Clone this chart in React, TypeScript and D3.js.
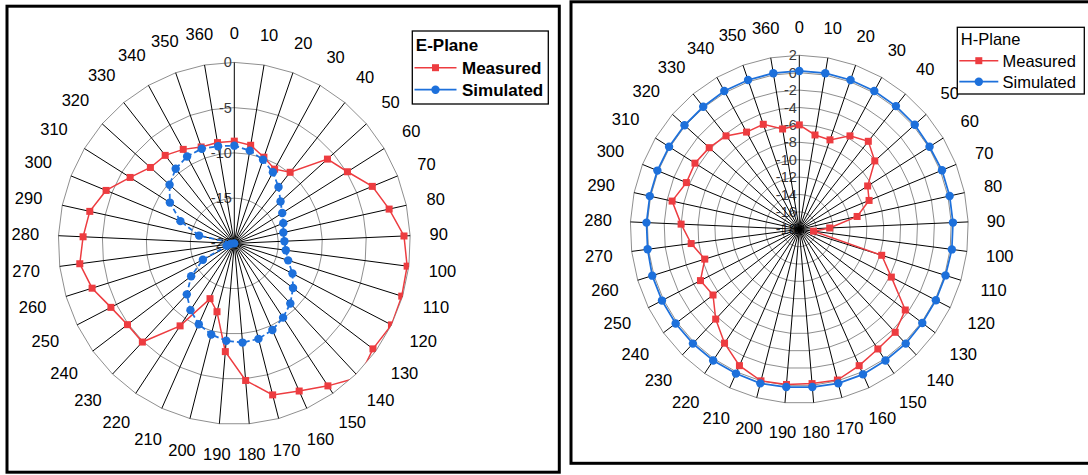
import React from 'react';
import * as d3 from 'd3';

// Category labels around the radar (degrees); 0 and 360 are separate categories.
const ANGLE_LABELS = [
  '0', '10', '20', '30', '40', '50', '60', '70', '80', '90',
  '100', '110', '120', '130', '140', '150', '160', '170', '180', '190',
  '200', '210', '220', '230', '240', '250', '260', '270', '280', '290',
  '300', '310', '320', '330', '340', '350', '360',
];

// E-plane pattern, dB
const E_MEASURED = [
  -8.7, -9.0, -9.9, -10.6, -9.9, -5.9, -4.9, -3.1, -2.0, -0.7,
  -0.2, -0.1, 0.0, -0.4, 0.5, -1.0, -2.1, -2.7, -4.8, -8.0,
  -12.2, -13.3, -9.0, -4.9, -4.9, -4.3, -3.1, -2.3, -2.8, -3.2,
  -4.3, -6.1, -7.3, -7.5, -8.1, -8.7, -8.7,
];
const E_SIMULATED = [
  -9.2, -9.6, -10.2, -11.0, -12.0, -13.0, -13.6, -14.0, -14.3, -14.3,
  -14.1, -13.6, -12.6, -11.7, -10.8, -10.1, -9.5, -9.1, -9.0, -9.2,
  -9.6, -10.2, -11.1, -12.2, -13.9, -16.0, -19.1, -19.6, -20.0, -15.9,
  -13.4, -11.4, -10.2, -9.4, -9.0, -8.9, -9.1,
];
const E_TICKS = [0, -5, -10, -15, -20];

// H-plane pattern, dB
const H_MEASURED = [
  -6.0, -7.0, -7.1, -5.7, -5.0, -6.1, -8.5, -9.1, -11.0, -14.4,
  -16.3, -7.8, -5.8, -2.4, -1.6, -1.4, -0.8, -0.1, -0.2, -0.1,
  0.0, -0.8, -2.2, -3.7, -5.3, -4.9, -6.3, -5.1, -4.0, -2.6,
  -3.6, -3.5, -3.8, -4.2, -5.2, -5.2, -6.3,
];
const H_SIMULATED = [
  0.2, 0.2, 0.2, 0.2, 0.2, 0.2, 0.1, 0.2, 0.2, 0.2,
  0.2, 0.1, 0.1, 0.1, 0.2, 0.2, 0.3, 0.3, 0.2, 0.2,
  0.3, 0.2, 0.2, 0.2, 0.2, 0.2, 0.2, 0.1, 0.1, 0.1,
  0.1, 0.1, 0.1, 0.1, 0.2, 0.2, 0.2,
];
const H_TICKS = [2, 0, -2, -4, -6, -8, -10, -12, -14, -16, -18];

const FONT = '"Liberation Sans", Arial, Helvetica, sans-serif';
const RED = '#ed3c40';
const BLUE = '#1d70db';

type RadarProps = {
  id: string;
  cx: number;
  cy: number;
  rx: number;
  ry: number;
  ticks: number[];
  measured: number[];
  simulated: number[];
  simDash?: string;
};

function Radar({ id, cx, cy, rx, ry, ticks, measured, simulated, simDash }: RadarProps) {
  const n = ANGLE_LABELS.length;
  const vMin = d3.min(ticks) as number;
  const vMax = d3.max(ticks) as number;
  const angle = d3.scaleLinear().domain([0, n]).range([0, 2 * Math.PI]);
  const radius = d3.scaleLinear().domain([vMin, vMax]).range([0, 1]);

  const pt = (i: number, v: number): [number, number] => {
    const a = angle(i);
    const r = radius(v);
    return [cx + rx * r * Math.sin(a), cy - ry * r * Math.cos(a)];
  };
  const closed = d3.line<[number, number]>().curve(d3.curveLinearClosed);
  const ring = (v: number) => closed(d3.range(n).map((i) => pt(i, v))) as string;
  const series = (vals: number[]) => closed(vals.map((v, i) => pt(i, v))) as string;

  const labelFs = 16.5;
  const k = 1.108;
  const boxH = 19;

  return (
    <g>
      <defs>
        <clipPath id={`${id}-clip`}>
          <path d={ring(vMax)} />
        </clipPath>
      </defs>
      {/* concentric gridlines */}
      {ticks
        .filter((t) => t !== vMin)
        .map((t) => (
          <path key={`r${t}`} d={ring(t)} fill="none" stroke="#8f8f8f" strokeWidth={1} />
        ))}
      {/* value axis labels */}
      {ticks.map((t) => (
        <text
          key={`t${t}`}
          x={cx - 2.5}
          y={cy - ry * radius(t)}
          dy="0.35em"
          textAnchor="end"
          fontFamily={FONT}
          fontSize={14.5}
          fill="#3a3a3a"
        >
          {t}
        </text>
      ))}
      {/* spokes */}
      {d3.range(n).map((i) => {
        const [x, y] = pt(i, vMax);
        return <line key={`s${i}`} x1={cx} y1={cy} x2={x} y2={y} stroke="#000" strokeWidth={1} />;
      })}
      {/* category labels */}
      {ANGLE_LABELS.map((lab, i) => {
        const a = angle(i);
        const s = Math.sin(a);
        const c = Math.cos(a);
        const w = lab.length * 0.556 * labelFs;
        const p = Math.abs(s) * (w / 2) + Math.abs(c) * (boxH / 2);
        const x = cx + (rx * k + p) * s;
        const y = cy - (ry * k + p) * c;
        return (
          <text
            key={`c${i}`}
            x={x}
            y={y}
            dy="0.36em"
            textAnchor="middle"
            fontFamily={FONT}
            fontSize={labelFs}
            fill="#000"
          >
            {lab}
          </text>
        );
      })}
      <g clipPath={`url(#${id}-clip)`}>
        {/* measured */}
        <path d={series(measured)} fill="none" stroke={RED} strokeWidth={1.5} />
        {measured.map((v, i) => {
          const [x, y] = pt(i, v);
          return <rect key={`m${i}`} x={x - 3.5} y={y - 3.5} width={7} height={7} fill={RED} />;
        })}
        {/* simulated */}
        <path
          d={series(simulated)}
          fill="none"
          stroke={BLUE}
          strokeWidth={1.75}
          strokeDasharray={simDash}
        />
        {simulated.map((v, i) => {
          const [x, y] = pt(i, v);
          return <circle key={`p${i}`} cx={x} cy={y} r={4.2} fill={BLUE} />;
        })}
      </g>
    </g>
  );
}

type LegendProps = {
  x: number;
  y: number;
  w: number;
  h: number;
  title: string;
  bold: boolean;
  fs: number;
  titleY: number;
  rowY: [number, number];
  lineX: [number, number];
  textX: number;
};

function Legend({ x, y, w, h, title, bold, fs, titleY, rowY, lineX, textX }: LegendProps) {
  const mid = (lineX[0] + lineX[1]) / 2;
  const weight = bold ? 700 : 400;
  return (
    <g fontFamily={FONT} fontSize={fs} fontWeight={weight} fill="#000">
      <rect x={x} y={y} width={w} height={h} fill="#fff" stroke="#000" strokeWidth={1.3} />
      <text x={x + 3.5} y={titleY}>
        {title}
      </text>
      <line x1={lineX[0]} x2={lineX[1]} y1={rowY[0]} y2={rowY[0]} stroke={RED} strokeWidth={1.5} />
      <rect x={mid - 3.5} y={rowY[0] - 3.5} width={7} height={7} fill={RED} />
      <text x={textX} y={rowY[0]} dy="0.36em">
        Measured
      </text>
      <line x1={lineX[0]} x2={lineX[1]} y1={rowY[1]} y2={rowY[1]} stroke={BLUE} strokeWidth={1.75} />
      <circle cx={mid} cy={rowY[1]} r={4.2} fill={BLUE} />
      <text x={textX} y={rowY[1]} dy="0.36em">
        Simulated
      </text>
    </g>
  );
}

export default function App() {
  return (
    <svg
      width={1088}
      height={475}
      style={{ position: 'absolute', left: 0, top: 0, background: '#fff' }}
    >
      <rect x={0} y={0} width={1088} height={475} fill="#fff" />

      {/* E-plane panel */}
      <rect x={7} y={6.2} width={552.3} height={466} fill="#fff" stroke="#000" strokeWidth={3} />
      <Radar
        id="eplane"
        cx={234.3}
        cy={243.4}
        rx={176}
        ry={181}
        ticks={E_TICKS}
        measured={E_MEASURED}
        simulated={E_SIMULATED}
        simDash="5,3"
      />
      <Legend
        x={412.3}
        y={31}
        w={136}
        h={73}
        title="E-Plane"
        bold={true}
        fs={17}
        titleY={50.5}
        rowY={[67.7, 89.7]}
        lineX={[414.5, 456.5]}
        textX={462}
      />

      {/* H-plane panel */}
      <rect x={571} y={1.8} width={530} height={461.5} fill="#fff" stroke="#000" strokeWidth={3} />
      <Radar
        id="hplane"
        cx={799.3}
        cy={229.3}
        rx={169}
        ry={174}
        ticks={H_TICKS}
        measured={H_MEASURED}
        simulated={H_SIMULATED}
      />
      <Legend
        x={957.3}
        y={27.3}
        w={127}
        h={66.7}
        title="H-Plane"
        bold={false}
        fs={16.5}
        titleY={44.5}
        rowY={[60.7, 81.7]}
        lineX={[959.3, 998.3]}
        textX={1002.5}
      />
    </svg>
  );
}
